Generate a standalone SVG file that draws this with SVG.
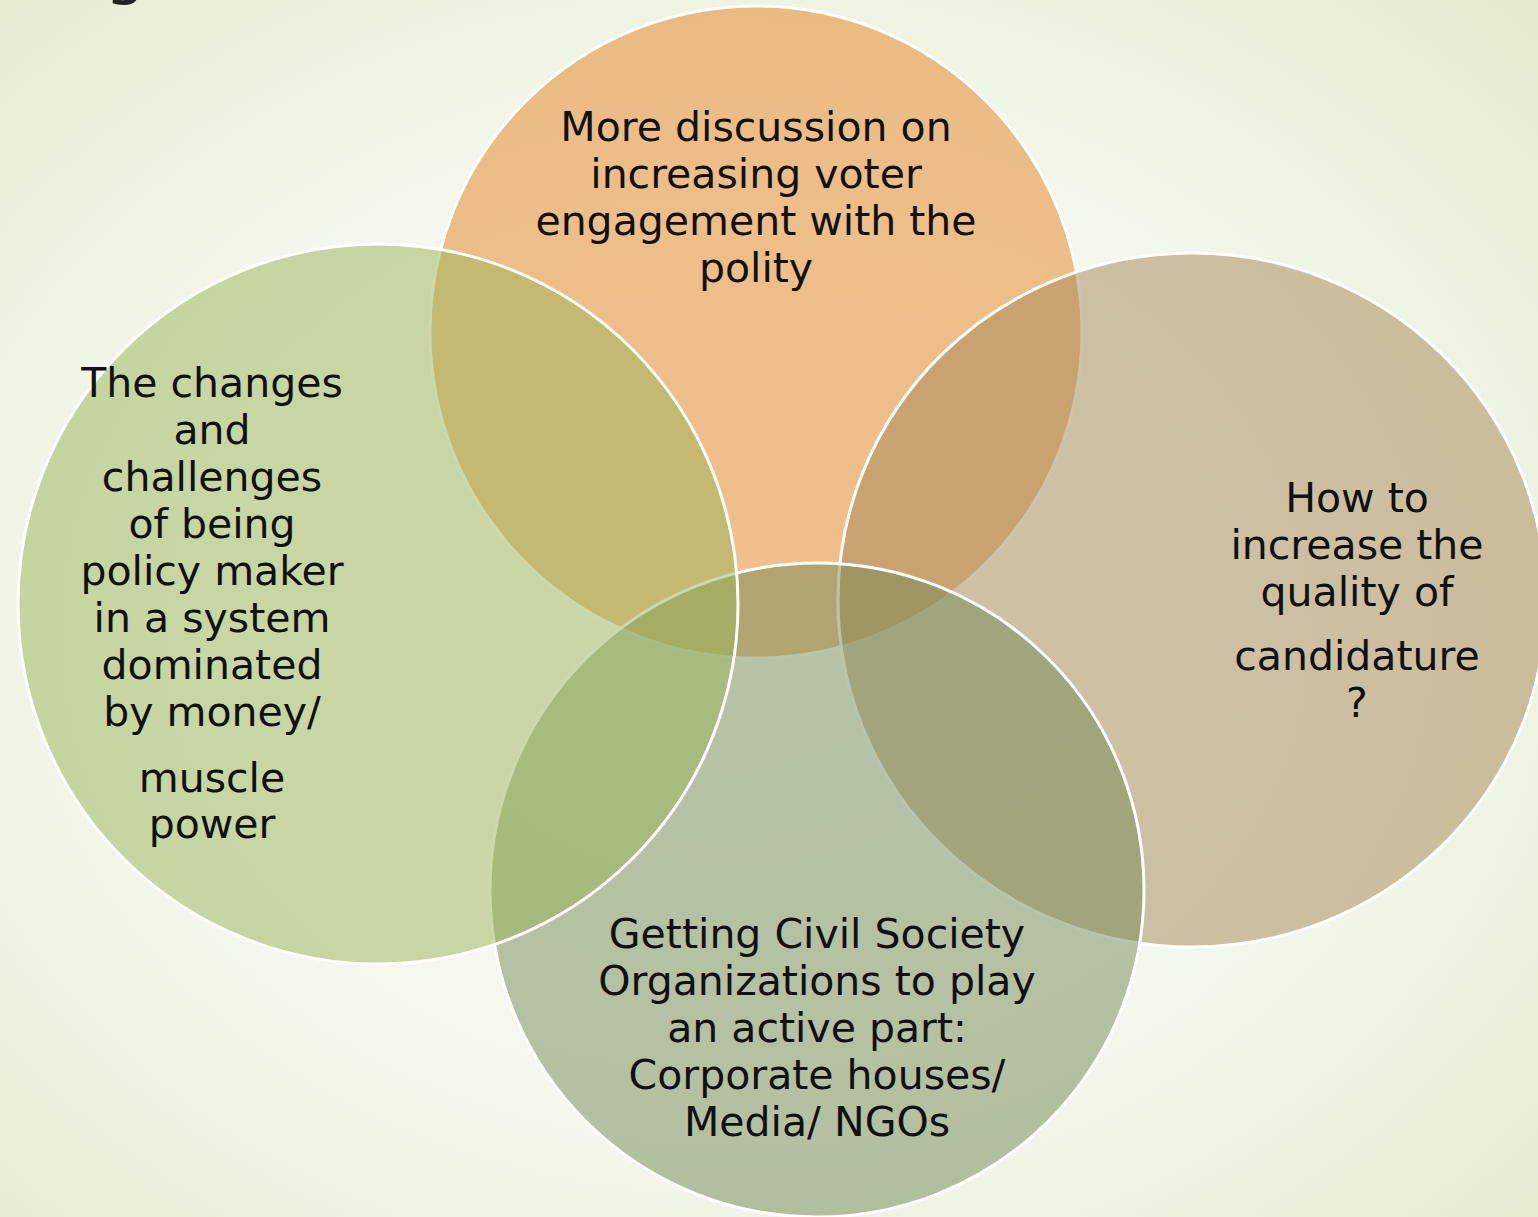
<svg xmlns="http://www.w3.org/2000/svg" width="1538" height="1217" viewBox="0 0 1538 1217">
  <defs>
    <radialGradient id="bg" cx="0.48" cy="0.52" r="0.75">
      <stop offset="0" stop-color="#fbfcf8"/>
      <stop offset="0.55" stop-color="#f4f7ec"/>
      <stop offset="1" stop-color="#e3eacd"/>
    </radialGradient>
  </defs>
  <style>
    .c { stroke: #ffffff; stroke-width: 3; fill-opacity: 0.5; }
    .t { font-family: "DejaVu Sans", "Liberation Sans", sans-serif; font-size: 41px; fill: #111111; text-anchor: middle; }
  </style>
  <rect x="0" y="0" width="1538" height="1217" fill="url(#bg)"/>
  <text x="105" y="-8" font-family="DejaVu Sans, sans-serif" font-size="64" fill="#222222">g</text>

  <g id="node-top">
    <circle class="c" cx="756" cy="332" r="326" fill="#e38322"/>
    <text class="t" x="756" y="141">More discussion on</text>
    <text class="t" x="756" y="188">increasing voter</text>
    <text class="t" x="756" y="235">engagement with the</text>
    <text class="t" x="756" y="282">polity</text>
  </g>

  <g id="node-right">
    <ellipse class="c" cx="1192" cy="600" rx="354" ry="347" fill="#a38756"/>
    <text class="t" x="1357" y="512">How to</text>
    <text class="t" x="1357" y="559">increase the</text>
    <text class="t" x="1357" y="606">quality of</text>
    <text class="t" x="1357" y="670">candidature</text>
    <text class="t" x="1357" y="717">?</text>
  </g>

  <g id="node-bottom">
    <circle class="c" cx="817" cy="890" r="327" fill="#738956"/>
    <text class="t" x="817" y="948">Getting Civil Society</text>
    <text class="t" x="817" y="995">Organizations to play</text>
    <text class="t" x="817" y="1042">an active part:</text>
    <text class="t" x="817" y="1089">Corporate houses/</text>
    <text class="t" x="817" y="1136">Media/ NGOs</text>
  </g>

  <g id="node-left">
    <circle class="c" cx="378" cy="604" r="360" fill="#99b358"/>
    <text class="t" x="212" y="397">The changes</text>
    <text class="t" x="212" y="444">and</text>
    <text class="t" x="212" y="491">challenges</text>
    <text class="t" x="212" y="538">of being</text>
    <text class="t" x="212" y="585">policy maker</text>
    <text class="t" x="212" y="632">in a system</text>
    <text class="t" x="212" y="679">dominated</text>
    <text class="t" x="212" y="726">by money/</text>
    <text class="t" x="212" y="792">muscle</text>
    <text class="t" x="212" y="838">power</text>
  </g>

  <g id="connectors"/>
</svg>
